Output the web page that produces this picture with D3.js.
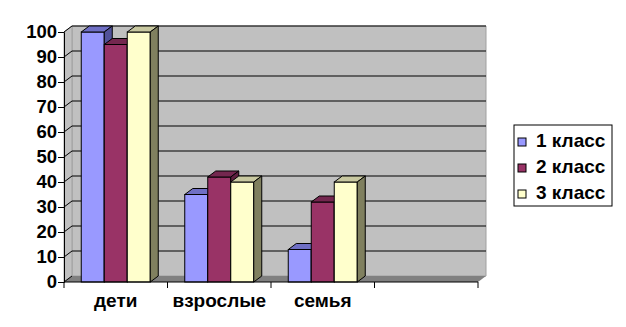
<!DOCTYPE html>
<html>
<head>
<meta charset="utf-8">
<script src="https://cdn.jsdelivr.net/npm/d3@7"></script>
<style>
  body { margin: 0; background: #fff; }
  text { font-family: "Liberation Sans", Arial, sans-serif; font-weight: bold; }
</style>
</head>
<body>
<div id="chart"></div>
<script>
var categories = ["дети", "взрослые", "семья", ""];
var seriesNames = ["1 класс", "2 класс", "3 класс"];
var class1 = [100, 35, 13];
var class2 = [95, 42, 32];
var class3 = [100, 40, 40];
var yTicks = [0, 10, 20, 30, 40, 50, 60, 70, 80, 90, 100];

var series = [class1, class2, class3];
var front = ["#9999ff", "#993366", "#ffffcc"];
var topC = ["#6f6fc4", "#74274f", "#c8c8a0"];
var sideC = ["#52529a", "#5c1f3e", "#80805f"];

var width = 626, height = 327;
var dx = 8, dy = -6;   // depth of the 3d effect

var svg = d3.select("#chart").append("svg")
  .attr("width", width)
  .attr("height", height);

var x = d3.scaleBand()
  .domain(categories.map(function(d, i) { return i; }))
  .range([64, 478]);

var y = d3.scaleLinear()
  .domain([0, 100])
  .range([282, 32]);

function poly(pts) {
  return pts.map(function(p) { return p.join(","); }).join(" ");
}

var x0 = x.range()[0], x1 = x.range()[1];
var yb = y(0), yt = y(100);

// back wall
svg.append("polygon")
  .attr("points", poly([[x0 + dx, yt + dy], [x1 + dx, yt + dy], [x1 + dx, yb + dy], [x0 + dx, yb + dy]]))
  .attr("fill", "#c0c0c0")
  .attr("stroke", "#a0a0a0")
  .attr("stroke-width", 1);

// side wall
svg.append("polygon")
  .attr("points", poly([[x0, yt], [x0 + dx, yt + dy], [x0 + dx, yb + dy], [x0, yb]]))
  .attr("fill", "#c0c0c0")
  .attr("stroke", "#a0a0a0")
  .attr("stroke-width", 1);

// floor
svg.append("polygon")
  .attr("points", poly([[x0, yb], [x1, yb], [x1 + dx, yb + dy], [x0 + dx, yb + dy]]))
  .attr("fill", "#808080");

// gridlines
var grid = svg.append("g");
yTicks.filter(function(d) { return d > 0; }).forEach(function(t) {
  grid.append("line")
    .attr("x1", x0 + dx).attr("x2", x1 + dx)
    .attr("y1", y(t) + dy).attr("y2", y(t) + dy)
    .attr("stroke", "#000").attr("stroke-width", 1);
});
yTicks.forEach(function(t) {
  grid.append("line")
    .attr("x1", x0).attr("x2", x0 + dx)
    .attr("y1", y(t)).attr("y2", y(t) + dy)
    .attr("stroke", "#000").attr("stroke-width", 1);
});

// bars
var bw = 23;
var bars = svg.append("g");
for (var c = 0; c < 3; c++) {
  var gx = x(c) + x.bandwidth() / 2 - bw * 1.5;
  for (var s = 0; s < series.length; s++) {
    var v = series[s][c];
    var bx = gx + s * bw;
    var by = y(v);
    bars.append("rect")
      .attr("x", bx).attr("y", by)
      .attr("width", bw).attr("height", yb - by)
      .attr("fill", front[s]).attr("stroke", "#000").attr("stroke-width", 1);
    bars.append("polygon")
      .attr("points", poly([[bx, by], [bx + dx, by + dy], [bx + bw + dx, by + dy], [bx + bw, by]]))
      .attr("fill", topC[s]).attr("stroke", "#000").attr("stroke-width", 1);
    bars.append("polygon")
      .attr("points", poly([[bx + bw, by], [bx + bw + dx, by + dy], [bx + bw + dx, yb + dy], [bx + bw, yb]]))
      .attr("fill", sideC[s]).attr("stroke", "#000").attr("stroke-width", 1);
  }
}

// y axis
var yAxis = svg.append("g")
  .attr("transform", "translate(" + x0 + ",0)")
  .call(d3.axisLeft(y).tickValues(yTicks).tickSize(6).tickPadding(1));
yAxis.selectAll("text")
  .attr("font-size", "18.5px").attr("fill", "#000")
  .style("font-family", "Liberation Sans, Arial, sans-serif");
yAxis.select(".domain").attr("stroke", "#000");
yAxis.selectAll(".tick line").attr("stroke", "#000");

// x axis
var xAxis = svg.append("g")
  .attr("transform", "translate(0," + yb + ")");
xAxis.append("line")
  .attr("x1", x0).attr("x2", x1).attr("y1", 0).attr("y2", 0)
  .attr("stroke", "#000");
d3.range(categories.length + 1).forEach(function(i) {
  var tx = i < categories.length ? x(i) : x1;
  xAxis.append("line")
    .attr("x1", tx).attr("x2", tx).attr("y1", 0).attr("y2", 6)
    .attr("stroke", "#000");
});
xAxis.selectAll("text.cat")
  .data(categories)
  .enter()
  .append("text")
  .attr("class", "cat")
  .attr("x", function(d, i) { return x(i) + x.bandwidth() / 2; })
  .attr("y", 25)
  .attr("text-anchor", "middle")
  .attr("font-size", "19px")
  .text(function(d) { return d; });

// legend
var legend = svg.append("g").attr("transform", "translate(514,125)");
legend.append("rect")
  .attr("width", 98).attr("height", 81)
  .attr("fill", "#fff").attr("stroke", "#000");
seriesNames.forEach(function(n, i) {
  legend.append("rect")
    .attr("x", 4).attr("y", 13 + i * 26)
    .attr("width", 8).attr("height", 8)
    .attr("fill", front[i]).attr("stroke", "#000");
  legend.append("text")
    .attr("x", 22).attr("y", 22 + i * 26)
    .attr("font-size", "19px")
    .text(n);
});
</script>
</body>
</html>
